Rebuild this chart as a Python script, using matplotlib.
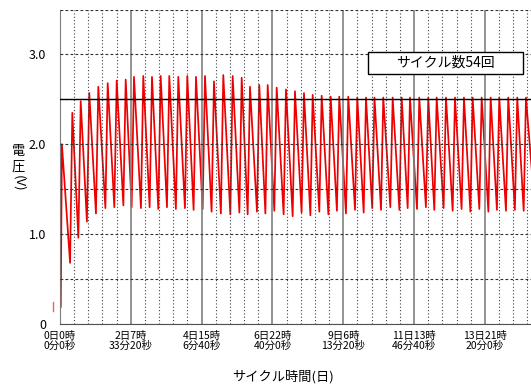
import matplotlib
matplotlib.use("Agg")
import matplotlib.pyplot as plt
from matplotlib.ticker import MultipleLocator
from matplotlib.patches import Rectangle

plt.rcParams['font.family'] = ['Noto Sans CJK JP', 'DejaVu Sans']

# cycle data (time in hours, voltage in V)
trough_h = [0.6, 7.9, 14.4, 21.1, 28.2, 35.6, 42.6, 49.7, 56.2, 63.5,
            70.3, 77.1, 83.9, 90.9, 98.0, 104.8, 111.9, 118.9, 126.2, 133.6,
            140.7, 147.2, 154.5, 161.1, 168.1, 175.4, 182.5, 189.5, 196.4, 203.4,
            210.5, 217.2, 224.3, 231.4, 238.2, 244.9, 251.8, 259.1, 266.2, 272.7,
            280.0, 287.0, 293.6, 300.9, 308.0, 315.0, 321.9, 328.9, 336.0, 342.7,
            349.8, 356.8, 363.7]
trough_v = [0.19, 0.68, 0.96, 1.14, 1.23, 1.29, 1.30, 1.32, 1.30, 1.29,
            1.30, 1.28, 1.30, 1.28, 1.29, 1.27, 1.28, 1.25, 1.23, 1.22,
            1.24, 1.22, 1.25, 1.23, 1.26, 1.22, 1.20, 1.24, 1.21, 1.25,
            1.22, 1.26, 1.23, 1.27, 1.24, 1.29, 1.27, 1.30, 1.27, 1.29,
            1.28, 1.30, 1.27, 1.29, 1.26, 1.28, 1.25, 1.28, 1.25, 1.27,
            1.26, 1.27, 1.26]
peak_h = [1.5, 9.65, 16.24, 22.98, 30.04, 37.41, 44.47, 51.53, 58.04, 65.33,
          72.15, 78.97, 85.72, 92.78, 99.84, 106.66, 113.72, 120.78, 128.08, 135.45,
          142.51, 149.02, 156.31, 162.90, 169.96, 177.25, 184.31, 191.37, 198.19, 205.25,
          212.31, 219.06, 226.12, 233.18, 240.00, 246.67, 253.57, 260.94, 268.00, 274.51,
          281.81, 288.86, 295.45, 302.75, 309.81, 316.86, 323.68, 330.74, 337.80, 344.55,
          351.61, 358.67, 365.49]
peak_v = [2.00, 2.35, 2.48, 2.57, 2.64, 2.68, 2.71, 2.72, 2.75, 2.76,
          2.75, 2.76, 2.76, 2.75, 2.76, 2.75, 2.76, 2.70, 2.77, 2.76,
          2.74, 2.64, 2.66, 2.66, 2.63, 2.61, 2.59, 2.57, 2.55, 2.54,
          2.53, 2.53, 2.53, 2.52, 2.52, 2.52, 2.52, 2.52, 2.52, 2.52,
          2.52, 2.52, 2.52, 2.52, 2.52, 2.52, 2.52, 2.52, 2.52, 2.52,
          2.52, 2.52, 2.52]
end_h, end_v = 372.5, 1.28
pre_h = [-5.5, -5.5]
pre_v = [0.14, 0.25]

tick_sec = [0, 200000, 400000, 600000, 800000, 1000000, 1200000]
tick_labels = ['0日0時\n0分0秒', '2日7時\n33分20秒', '4日15時\n6分40秒',
               '6日22時\n40分0秒', '9日6時\n13分20秒', '11日13時\n46分40秒',
               '13日21時\n20分0秒']
ytick_vals = [0, 1, 2, 3]
ytick_labels = ['0', '1.0', '2.0', '3.0']
n_cycles = 54

t, v = [], []
for a, b, c, d in zip(trough_h, trough_v, peak_h, peak_v):
    t += [a, c]
    v += [b, d]
t.append(end_h)
v.append(end_v)

W, H = 531, 385
fig = plt.figure(figsize=(W / 100, H / 100), dpi=100)
ax = fig.add_axes([60 / W, 61 / H, 471 / W, (324 - 9.5) / H])

ax.plot(t, v, color='#ee0000', lw=1.25, zorder=2)
ax.plot(pre_h, pre_v, color='#f06060', lw=1.0, clip_on=False)

ax.set_xlim(0, 1330000 / 3600)
ax.set_ylim(0, 3.5)

ax.set_xticks([s / 3600 for s in tick_sec])
ax.set_xticklabels(tick_labels, fontsize=7.5, linespacing=1.0)
ax.xaxis.set_minor_locator(MultipleLocator(40000 / 3600))
ax.set_yticks([0, 0.5, 1, 1.5, 2, 2.5, 3, 3.5])
ax.set_yticklabels([ytick_labels[ytick_vals.index(y)] if y in ytick_vals else ''
                    for y in [0, 0.5, 1, 1.5, 2, 2.5, 3, 3.5]], fontsize=9)
ax.tick_params(axis='both', which='both', length=0)
ax.tick_params(axis='x', pad=5)
ax.tick_params(axis='y', pad=10)

ax.set_axisbelow(False)
ax.grid(axis='x', which='major', color='#808080', lw=1.2, ls='-', zorder=3)
ax.grid(axis='x', which='minor', color='#404040', lw=0.8, ls=(0, (1, 2)), zorder=3)
ax.grid(axis='y', which='major', color='#303030', lw=0.8, ls=(0, (2.5, 2)), zorder=3)
ax.axhline(2.5, color='black', lw=1.0, zorder=4)

for s in ['top', 'right']:
    ax.spines[s].set_visible(False)
ax.spines['left'].set_color('#707070')
ax.spines['left'].set_zorder(1)
ax.spines['bottom'].set_color('#505050')

# vertical y-axis label
fig.text(18.5 / W, 1 - 152 / H, '電', ha='center', va='center', fontsize=9.5)
fig.text(18.5 / W, 1 - 167 / H, '圧', ha='center', va='center', fontsize=9.5)
fig.text(18.5 / W, 1 - 175 / H, '(V)', ha='center', va='top', fontsize=9.5,
         rotation=-90)

fig.text(283 / W, 1 - 377 / H, 'サイクル時間(日)', ha='center', va='center',
         fontsize=9.5)

# cycle count box
fig.patches.append(Rectangle((368 / W, 1 - 74 / H), 155 / W, 22 / H,
                             transform=fig.transFigure, facecolor='white',
                             edgecolor='black', lw=1.0, zorder=5))
fig.text(445 / W, 1 - 63 / H, f'サイクル数{n_cycles}回', ha='center',
         va='center', fontsize=10, zorder=6)

fig.savefig('out.png', dpi=100)
